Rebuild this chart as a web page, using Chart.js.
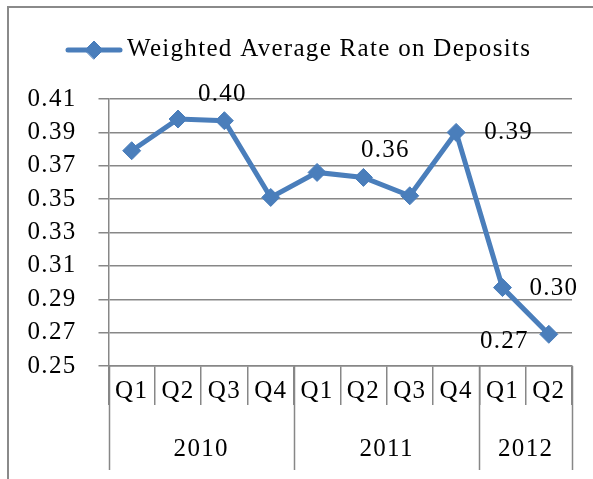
<!DOCTYPE html>
<html>
<head>
<meta charset="utf-8">
<script src="https://cdn.jsdelivr.net/npm/chart.js@4.4.1/dist/chart.umd.min.js"></script>
<style>
  html, body { margin: 0; padding: 0; background: #fff; }
  #wrap { position: relative; width: 593px; height: 479px; }
</style>
</head>
<body>
<div id="wrap"><canvas id="chart"></canvas></div>
<script>
// data
const quarters = ['Q1', 'Q2', 'Q3', 'Q4', 'Q1', 'Q2', 'Q3', 'Q4', 'Q1', 'Q2'];
const years = ['2010', '2011', '2012'];
const yearSpans = [4, 4, 2];
const rates = [0.379, 0.398, 0.397, 0.351, 0.366, 0.363, 0.352, 0.390, 0.297, 0.269];
const pointLabels = [null, null, '0.40', null, null, '0.36', null, '0.39', '0.30', '0.27'];
const seriesName = 'Weighted Average Rate on Deposits';
const yMin = 0.25, yMax = 0.41, yStep = 0.02;

const FONT = '"Liberation Serif", "Times New Roman", serif';
const FSIZE = 25;
const BLUE = '#4a7ebb';
const GRID = '#878787';

// where each data label sits relative to its point (Excel placed them by hand)
const labelPlace = {
  2: { dx: -2, dy: -26, align: 'center' },
  5: { dx: 22, dy: -27, align: 'center' },
  7: { dx: 28, dy: 0, align: 'left' },
  8: { dx: 27, dy: 1, align: 'left' },
  9: { dx: -20, dy: 7, align: 'right' }
};

const extras = {
  id: 'extras',
  beforeDraw(chart) {
    const ctx = chart.ctx;
    // Palatino in the original is wider than Times, open the text up a little
    ctx.letterSpacing = '1.3px';
    ctx.save();
    // outer frame (only top and left are inside the picture)
    ctx.strokeStyle = '#8a8a8a';
    ctx.lineWidth = 2;
    ctx.beginPath();
    ctx.moveTo(8, 479);
    ctx.lineTo(8, 7);
    ctx.lineTo(593, 7);
    ctx.stroke();
    ctx.restore();
  },
  afterDatasetsDraw(chart) {
    const ctx = chart.ctx;
    const meta = chart.getDatasetMeta(0);
    ctx.save();
    ctx.font = FSIZE + 'px ' + FONT;
    ctx.fillStyle = '#000';
    ctx.textBaseline = 'middle';
    pointLabels.forEach((t, i) => {
      if (!t) return;
      const p = meta.data[i];
      const pl = labelPlace[i];
      ctx.textAlign = pl.align;
      ctx.fillText(t, p.x + pl.dx, p.y + pl.dy);
    });
    ctx.restore();
  },
  afterDraw(chart) {
    const ctx = chart.ctx;
    const x = chart.scales.x;
    const top = chart.chartArea.bottom;
    ctx.save();
    // year groups: long separators and year names
    ctx.strokeStyle = GRID;
    ctx.lineWidth = 1.5;
    ctx.font = FSIZE + 'px ' + FONT;
    ctx.fillStyle = '#000';
    ctx.textAlign = 'center';
    ctx.textBaseline = 'middle';
    let start = 0;
    const edges = [0];
    yearSpans.forEach((n, g) => {
      const a = x.getPixelForValue(start - 0.5);
      const b = x.getPixelForValue(start + n - 0.5);
      ctx.fillText(years[g], (a + b) / 2, 449);
      start += n;
      edges.push(start);
    });
    edges.forEach(e => {
      const px = Math.round(x.getPixelForValue(e - 0.5)) + 0.5;
      ctx.beginPath();
      ctx.moveTo(px, top);
      ctx.lineTo(px, 470);
      ctx.stroke();
    });

    // legend: line with diamond marker, then the series name
    ctx.strokeStyle = BLUE;
    ctx.fillStyle = BLUE;
    ctx.lineWidth = 5;
    ctx.lineCap = 'round';
    ctx.beginPath();
    ctx.moveTo(68, 50);
    ctx.lineTo(120, 50);
    ctx.stroke();
    ctx.lineWidth = 1;
    Chart.helpers.drawPoint(ctx, { pointStyle: 'rectRot', radius: 9, rotation: 0, borderWidth: 1 }, 94, 50);
    ctx.fillStyle = '#000';
    ctx.textAlign = 'left';
    ctx.fillText(seriesName, 127, 49);
    ctx.restore();
  }
};

const ctx = document.getElementById('chart').getContext('2d');
new Chart(ctx, {
  type: 'line',
  data: {
    labels: quarters,
    datasets: [{
      label: seriesName,
      data: rates,
      borderColor: BLUE,
      backgroundColor: BLUE,
      borderWidth: 5,
      pointStyle: 'rectRot',
      pointRadius: 9,
      pointBorderWidth: 1,
      tension: 0,
      fill: false
    }]
  },
  options: {
    responsive: true,
    maintainAspectRatio: false,
    animation: false,
    events: [],
    layout: { padding: { top: 99, left: 8, right: 21, bottom: 0 } },
    scales: {
      x: {
        offset: true,
        grid: {
          offset: true,
          drawOnChartArea: false,
          drawTicks: true,
          tickLength: 39,
          color: GRID,
          lineWidth: 1.5
        },
        border: { display: true, color: GRID, width: 1.5 },
        ticks: {
          color: '#000',
          font: { family: FONT, size: FSIZE },
          padding: -29,
          maxRotation: 0,
          autoSkip: false
        },
        afterFit(scale) { scale.height = 113; }
      },
      y: {
        min: yMin,
        max: yMax,
        grid: {
          color: GRID,
          lineWidth: 1.5,
          tickLength: 10
        },
        border: { display: true, color: GRID, width: 1.5 },
        ticks: {
          stepSize: yStep,
          color: '#000',
          font: { family: FONT, size: FSIZE },
          padding: 22,
          callback: v => v.toFixed(2)
        },
        afterFit(scale) { scale.width = 100.5; }
      }
    },
    plugins: {
      legend: { display: false },
      tooltip: { enabled: false }
    }
  },
  plugins: [extras]
});
</script>
</body>
</html>
